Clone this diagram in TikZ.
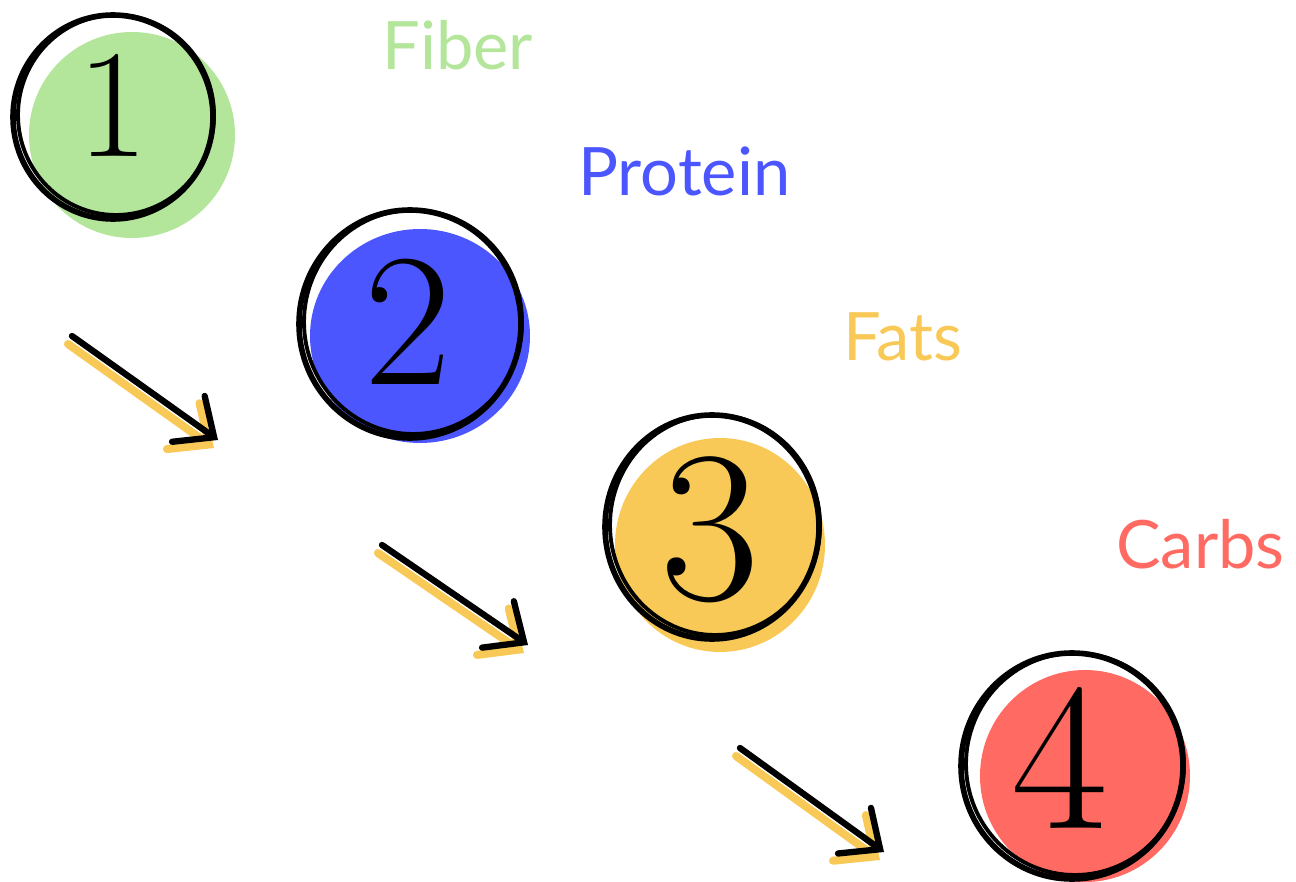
\documentclass[tikz,border=0pt]{standalone}
\usepackage{fontspec}
\usepackage{tikz}
\usetikzlibrary{arrows.meta, positioning, calc}
\newfontfamily\labelfont{Lato}
\definecolor{fibergreen}{HTML}{B3E59A}
\definecolor{proteinblue}{HTML}{4B56FF}
\definecolor{fatsyellow}{HTML}{F8C957}
\definecolor{carbsred}{HTML}{FF6B63}

\begin{document}
\begin{tikzpicture}[
  x=0.02cm, y=-0.02cm,
  ring/.style={draw=black, line width=3.2pt},
  ringthin/.style={draw=black, line width=2.2pt},
  digit/.style={font=\fontsize{#1}{#1}\selectfont, inner sep=0pt},
  tag/.style={font=\labelfont\fontsize{38}{40}\selectfont, anchor=base west, inner sep=0pt},
  stepline/.style={line width=3.6pt, line cap=round,
    -{Straight Barb[length=18pt, width=32pt, line cap=round]}},
  stepshadow/.style={stepline, draw=fatsyellow, line width=4.6pt}
]
\useasboundingbox (0,0) rectangle (1296,882);

% colour blobs
\fill[fibergreen]  (132,135) ellipse [x radius=103, y radius=103];
\fill[proteinblue] (420,336) ellipse [x radius=110, y radius=107];
\fill[fatsyellow]  (720,545) ellipse [x radius=105, y radius=107];
\fill[carbsred]    (1085,776) ellipse [x radius=105, y radius=106];

% hand drawn rings
\draw[ring]     (113,117) ellipse [x radius=100, y radius=102];
\draw[ringthin] (116,115) ellipse [x radius=98, y radius=100];
\draw[ring]     (410,324) ellipse [x radius=111, y radius=114];
\draw[ringthin] (413,322) ellipse [x radius=109, y radius=112];
\draw[ring]     (712,527) ellipse [x radius=107, y radius=112];
\draw[ringthin] (715,525) ellipse [x radius=105, y radius=110];
\draw[ring]     (1072,766) ellipse [x radius=111, y radius=113];
\draw[ringthin] (1075,764) ellipse [x radius=109, y radius=111];

% numbers
\node[digit=88]  (d1) at (113,105)  {1};
\node[digit=108] (d2) at (408,322)  {2};
\node[digit=123] (d3) at (710,530)  {3};
\node[digit=120] (d4) at (1060,758) {4};

% labels
\node[tag, text=fibergreen]  (fiber)   at (382,70)  {Fiber};
\node[tag, text=proteinblue] (protein) at (578,195) {Protein};
\node[tag, text=fatsyellow]  (fats)    at (843,360) {Fats};
\node[tag, text=carbsred]    (carbs)   at (1116,568) {Carbs};

% arrows
\coordinate (a1s) at (72,336);   \coordinate (a1e) at (218,440);
\coordinate (a2s) at (382,545);  \coordinate (a2e) at (528,645);
\coordinate (a3s) at (740,748);  \coordinate (a3e) at (884,852);
\foreach \s/\e in {a1s/a1e, a2s/a2e, a3s/a3e}{
  \draw[stepshadow] ($(\s)+(-4,8)$) -- ($(\e)+(-4,8)$);
  \draw[stepline] (\s) -- (\e);
}
\end{tikzpicture}
\end{document}
